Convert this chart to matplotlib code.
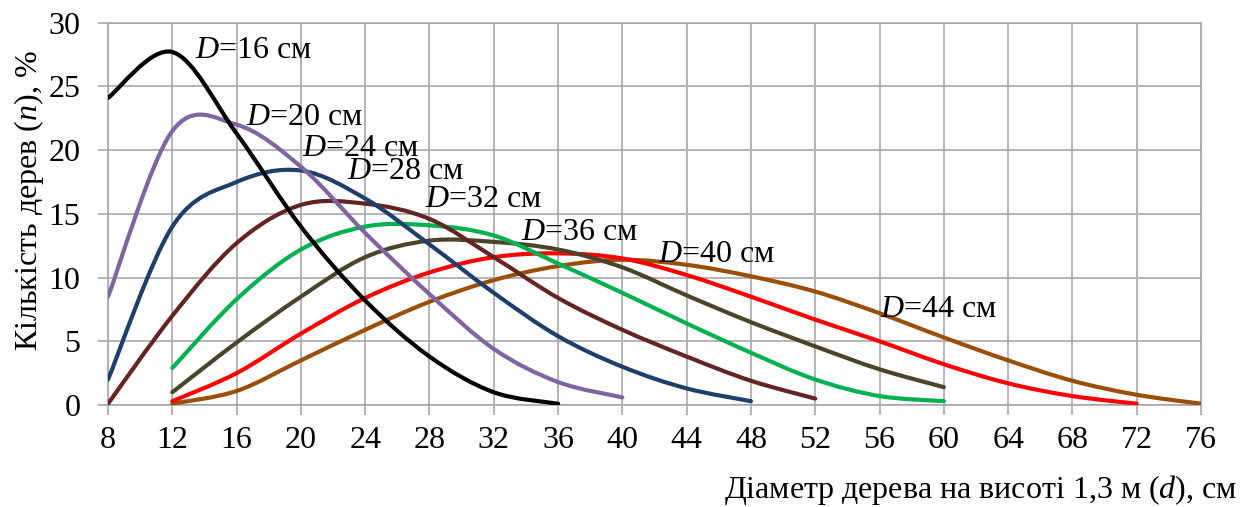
import matplotlib.pyplot as plt
from matplotlib.path import Path
from matplotlib.patches import PathPatch

# діаметр ступеня (см) і частка дерев (%) для кожного середнього діаметра D
d16 = [8, 12, 16, 20, 24, 28, 32, 36]
n16 = [24.1, 27.7, 21.3, 14.0, 8.2, 3.8, 1.0, 0.1]

d20 = [8, 12, 16, 20, 24, 28, 32, 36, 40]
n20 = [8.5, 21.5, 22.0, 18.7, 13.5, 8.7, 4.4, 1.8, 0.6]

d24 = [8, 12, 16, 20, 24, 28, 32, 36, 40, 44, 48]
n24 = [2.0, 14.0, 17.5, 18.4, 16.2, 12.6, 8.8, 5.4, 3.0, 1.3, 0.3]

d28 = [8, 12, 16, 20, 24, 28, 32, 36, 40, 44, 48, 52]
n28 = [0.1, 7.0, 12.7, 15.7, 15.8, 14.6, 11.6, 8.4, 5.9, 3.8, 1.9, 0.5]

d32 = [12, 16, 20, 24, 28, 32, 36, 40, 44, 48, 52, 56, 60]
n32 = [2.9, 8.3, 12.2, 14.0, 14.1, 13.3, 11.1, 8.8, 6.4, 4.1, 2.0, 0.7, 0.3]

d36 = [12, 16, 20, 24, 28, 32, 36, 40, 44, 48, 52, 56, 60]
n36 = [1.0, 4.9, 8.5, 11.6, 12.9, 12.8, 12.2, 10.8, 8.6, 6.5, 4.6, 2.8, 1.4]

d40 = [12, 16, 20, 24, 28, 32, 36, 40, 44, 48, 52, 56, 60, 64, 68, 72]
n40 = [0.3, 2.5, 5.6, 8.4, 10.4, 11.6, 11.9, 11.5, 10.2, 8.5, 6.7, 5.0, 3.2, 1.7, 0.7, 0.1]

d44 = [12, 16, 20, 24, 28, 32, 36, 40, 44, 48, 52, 56, 60, 64, 68, 72, 76]
n44 = [0.1, 1.1, 3.5, 5.9, 8.1, 9.8, 10.9, 11.4, 11.0, 10.1, 8.9, 7.2, 5.3, 3.5, 1.9, 0.8, 0.1]

labels = ["16", "20", "24", "28", "32", "36", "40", "44"]
label_pos = [(13.4, 27.8), (16.6, 22.6), (20.05, 20.1), (22.85, 18.3),
             (27.7, 16.1), (33.7, 13.5), (42.2, 11.8), (56.0, 7.5)]

colors = ["#000000", "#8064A2", "#1F3F6B", "#632523",
          "#00B050", "#4A452A", "#FF0000", "#9A4F08"]

series = [(d16, n16), (d20, n20), (d24, n24), (d28, n28),
          (d32, n32), (d36, n36), (d40, n40), (d44, n44)]

plt.rcParams["font.family"] = ["Liberation Serif", "DejaVu Serif"]
plt.rcParams["mathtext.fontset"] = "custom"
plt.rcParams["mathtext.rm"] = "Liberation Serif"
plt.rcParams["mathtext.it"] = "Liberation Serif:italic"

FS = 23
GRID = "#A8A8A8"


def smooth_path(xs, ys):
    # Excel-like smoothed line: cubic Bezier segments through the data points
    pts = list(zip(xs, ys))
    ext = [pts[0]] + pts + [pts[-1]]
    verts = [pts[0]]
    codes = [Path.MOVETO]
    for i in range(1, len(ext) - 2):
        p0, p1, p2, p3 = ext[i - 1], ext[i], ext[i + 1], ext[i + 2]
        c1 = (p1[0] + (p2[0] - p0[0]) / 6, p1[1] + (p2[1] - p0[1]) / 6)
        c2 = (p2[0] - (p3[0] - p1[0]) / 6, p2[1] - (p3[1] - p1[1]) / 6)
        verts += [c1, c2, p2]
        codes += [Path.CURVE4] * 3
    return Path(verts, codes)


fig = plt.figure(figsize=(12.46, 5.07), dpi=100)
ax = fig.add_axes([0.0867, 0.2012, 0.8772, 0.754])

for k, ((xs, ys), col) in enumerate(zip(series, colors)):
    patch = PathPatch(smooth_path(xs, ys), fill=False, edgecolor=col,
                      linewidth=3.0, capstyle="round", zorder=10 - k)
    ax.add_patch(patch)

for lab, (tx, ty) in zip(labels, label_pos):
    ax.text(tx, ty, "$D$=" + lab + " см", fontsize=FS, ha="left",
            va="center", zorder=20)

ax.set_xlim(8, 76)
ax.set_ylim(0, 30)
ax.set_xticks(range(8, 77, 4))
ax.set_yticks(range(0, 31, 5))
ax.grid(True, color=GRID, linewidth=1.2, zorder=0)
ax.set_axisbelow(True)
for sp in ax.spines.values():
    sp.set_color(GRID)
    sp.set_linewidth(1.2)
ax.tick_params(axis="both", direction="out", color=GRID, width=1.2,
               length=7, labelsize=FS)
ax.tick_params(axis="y", pad=13)
ax.tick_params(axis="x", pad=8)

fig.text(0.023, 1 - 201 / 507, "Кількість дерев ($n$), %", rotation=90,
         fontsize=FS, ha="center", va="center")
fig.text(1237 / 1246, 1 - 490 / 507, "Діаметр дерева на висоті 1,3 м ($d$), см",
         fontsize=FS, ha="right", va="center")

fig.savefig("out.png", dpi=100)
